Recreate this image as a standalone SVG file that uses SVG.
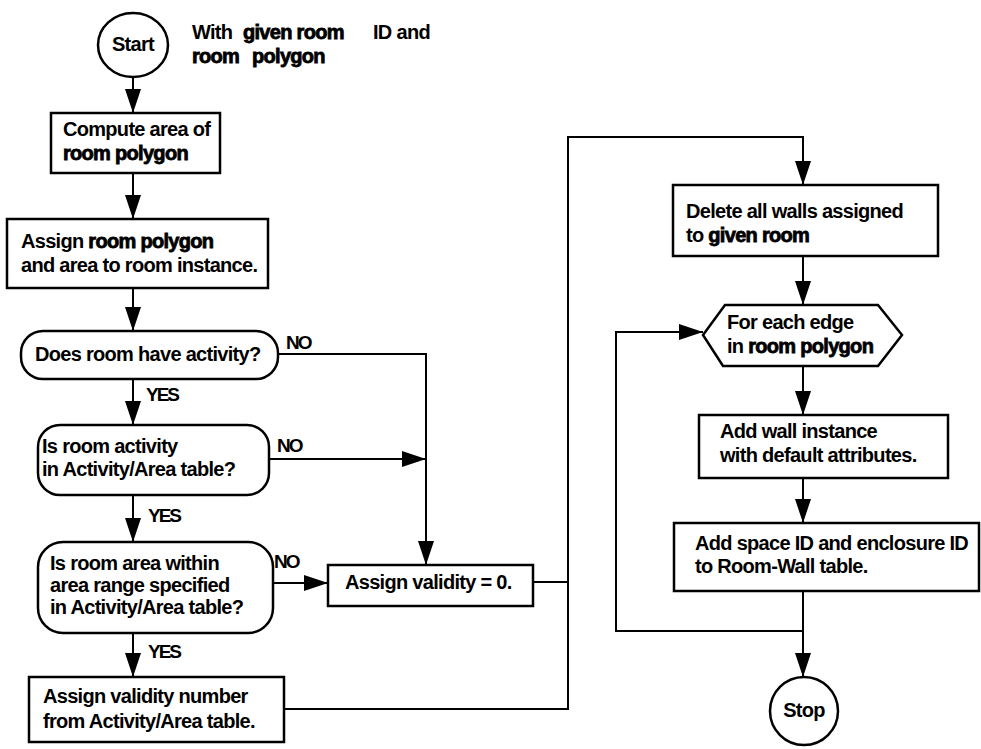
<svg xmlns="http://www.w3.org/2000/svg" width="981" height="749" viewBox="0 0 981 749">
  <style>
    .shape { fill: #fff; stroke: #000; stroke-width: 2.5; }
    .wire { fill: none; stroke: #000; stroke-width: 2; }
    text { font-family: "Liberation Sans", Arial, Helvetica, sans-serif; font-size: 20px; font-weight: bold; letter-spacing: -0.7px; fill: #000; }
    .em { stroke: #000; stroke-width: 0.8; }
    .lbl { font-size: 19px; letter-spacing: -2px; }
  </style>
  <defs>
    <marker id="head" markerUnits="userSpaceOnUse" markerWidth="24" markerHeight="16" refX="24" refY="8" orient="auto">
      <path d="M0,0 L24,8 L0,16 Z" fill="#000"/>
    </marker>
  </defs>

  <!-- connectors -->
  <g id="connectors">
    <path class="wire" d="M133,77 V113" marker-end="url(#head)"/>
    <path class="wire" d="M133,173 V219" marker-end="url(#head)"/>
    <path class="wire" d="M133,288 V331" marker-end="url(#head)"/>
    <path class="wire" d="M133,379 V425" marker-end="url(#head)"/>
    <path class="wire" d="M133,495 V542" marker-end="url(#head)"/>
    <path class="wire" d="M133,633 V677" marker-end="url(#head)"/>
    <path class="wire" d="M278,354 H426 V565" marker-end="url(#head)"/>
    <path class="wire" d="M269,459 H426" marker-end="url(#head)"/>
    <path class="wire" d="M273,583 H328" marker-end="url(#head)"/>
    <path class="wire" d="M533,582 H568"/>
    <path class="wire" d="M284,709 H568 V137 H803 V185" marker-end="url(#head)"/>
    <path class="wire" d="M803,256 V305" marker-end="url(#head)"/>
    <path class="wire" d="M803,366 V415" marker-end="url(#head)"/>
    <path class="wire" d="M803,478 V523" marker-end="url(#head)"/>
    <path class="wire" d="M803,591 V677" marker-end="url(#head)"/>
    <path class="wire" d="M803,631 H616 V332 H703" marker-end="url(#head)"/>
    <text class="lbl" x="286" y="349">NO</text>
    <text class="lbl" x="146" y="401">YES</text>
    <text class="lbl" x="277" y="452">NO</text>
    <text class="lbl" x="148" y="522">YES</text>
    <text class="lbl" x="274" y="568">NO</text>
    <text class="lbl" x="148" y="658">YES</text>
  </g>

  <g id="start">
    <ellipse class="shape" cx="133" cy="45" rx="35" ry="32"/>
    <text x="133" y="51" text-anchor="middle">Start</text>
  </g>

  <g id="input-note">
    <text y="39"><tspan x="192">With</tspan><tspan x="243" class="em">given room</tspan><tspan x="373">ID and</tspan></text>
    <text y="63" class="em"><tspan x="192">room</tspan><tspan x="252">polygon</tspan></text>
  </g>

  <g id="compute-area">
    <rect class="shape" x="51" y="113" width="169" height="60"/>
    <text x="63" y="136">Compute area of</text>
    <text x="63" y="160" class="em">room polygon</text>
  </g>

  <g id="assign-polygon">
    <rect class="shape" x="7" y="219" width="261" height="69"/>
    <text x="21" y="248">Assign <tspan class="em">room polygon</tspan></text>
    <text x="21" y="272">and area to room instance.</text>
  </g>

  <g id="has-activity">
    <rect class="shape" x="21" y="331" width="257" height="48" rx="22" ry="22"/>
    <text x="35" y="361">Does room have activity?</text>
  </g>

  <g id="activity-in-table">
    <rect class="shape" x="38" y="425" width="231" height="70" rx="22" ry="22"/>
    <text x="42" y="453">Is room activity</text>
    <text x="42" y="476">in Activity/Area table?</text>
  </g>

  <g id="area-in-range">
    <rect class="shape" x="38" y="542" width="235" height="91" rx="25" ry="25"/>
    <text x="50" y="570">Is room area within</text>
    <text x="50" y="592">area range specified</text>
    <text x="50" y="614">in Activity/Area table?</text>
  </g>

  <g id="assign-number">
    <rect class="shape" x="29" y="677" width="255" height="65"/>
    <text x="43" y="703">Assign validity number</text>
    <text x="43" y="728">from Activity/Area table.</text>
  </g>

  <g id="assign-zero">
    <rect class="shape" x="328" y="565" width="205" height="41"/>
    <text x="345" y="589">Assign validity = 0.</text>
  </g>

  <g id="delete-walls">
    <rect class="shape" x="673" y="185" width="265" height="71"/>
    <text x="686" y="218">Delete all walls assigned</text>
    <text x="686" y="242">to <tspan class="em">given room</tspan></text>
  </g>

  <g id="edge-loop">
    <polygon class="shape" points="725,305 878,305 902,335 878,366 723,366 703,335"/>
    <text x="727" y="329">For each edge</text>
    <text x="727" y="353">in <tspan class="em">room polygon</tspan></text>
  </g>

  <g id="add-wall">
    <rect class="shape" x="699" y="415" width="249" height="63"/>
    <text x="720" y="438">Add wall instance</text>
    <text x="720" y="462">with default attributes.</text>
  </g>

  <g id="add-ids">
    <rect class="shape" x="674" y="523" width="305" height="68"/>
    <text x="695" y="550">Add space ID and enclosure ID</text>
    <text x="695" y="573">to Room-Wall table.</text>
  </g>

  <g id="stop">
    <ellipse class="shape" cx="804" cy="711" rx="34" ry="34"/>
    <text x="804" y="717" text-anchor="middle">Stop</text>
  </g>
</svg>
